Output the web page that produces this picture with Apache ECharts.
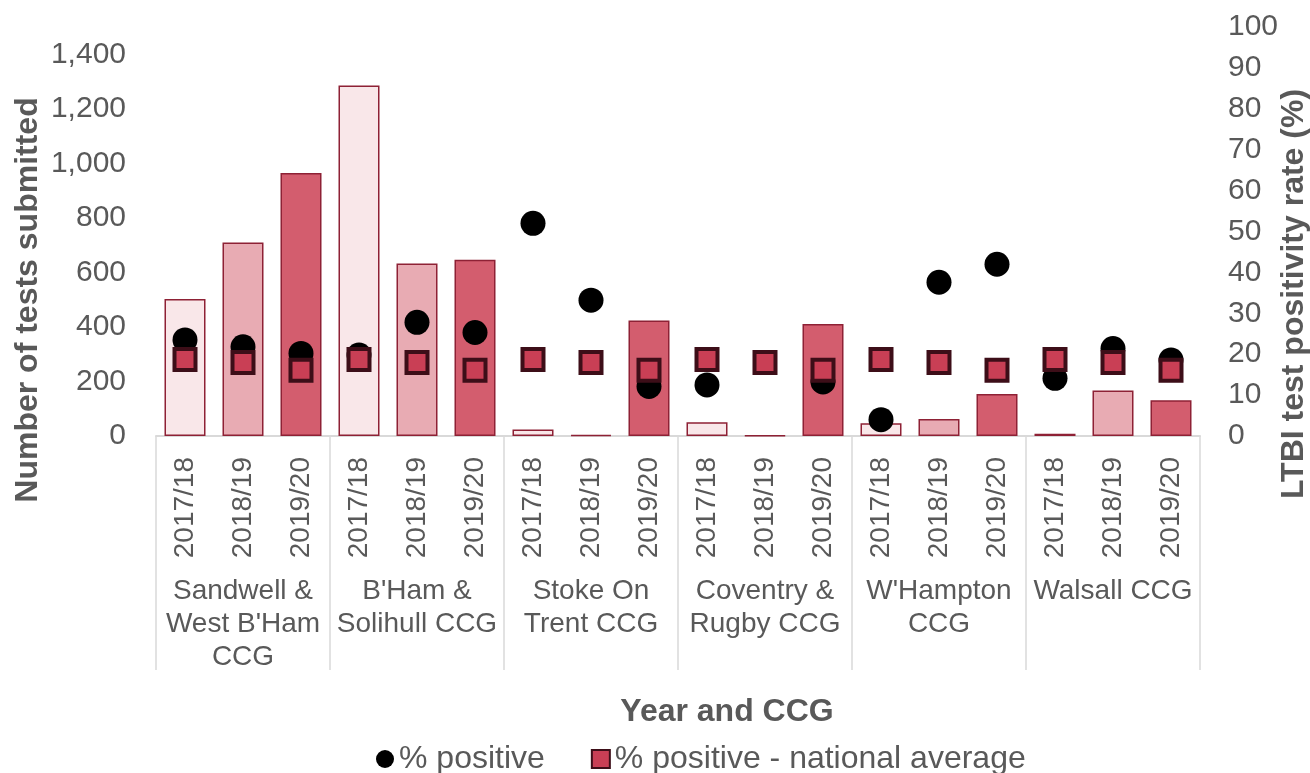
<!DOCTYPE html>
<html>
<head>
<meta charset="utf-8">
<script src="https://cdn.jsdelivr.net/npm/echarts@6/dist/echarts.min.js"></script>
<style>
  html, body { margin: 0; padding: 0; background: #fff; }
  #chart { width: 1310px; height: 773px; }
</style>
</head>
<body>
<div id="chart"></div>
<script>
const groups = ["Sandwell &\nWest B'Ham\nCCG", "B'Ham &\nSolihull CCG", "Stoke On\nTrent CCG", "Coventry &\nRugby CCG", "W'Hampton\nCCG", "Walsall CCG"];
const years = ['2017/18', '2018/19', '2019/20'];
const testsSubmitted = [502, 710, 965, 1285, 633, 646, 24, 4, 424, 50, 2, 411, 47, 62, 154, 8, 167, 131];
const pctPositive = [23.5, 21.8, 20.2, 19.8, 27.8, 25.3, 52.0, 33.2, 12.1, 12.5, null, 13.2, 4.0, 37.6, 42.0, 14.1, 21.4, 18.6];
const pctNational = [18.7, 18.0, 16.1, 18.7, 18.0, 16.1, 18.7, 18.0, 16.1, 18.7, 18.0, 16.1, 18.7, 18.0, 16.1, 18.7, 18.0, 16.1];
const leftTicks = { min: 0, max: 1500, interval: 200 };
const rightTicks = { min: 0, max: 100, interval: 10 };

const categories = [];
groups.forEach((g, gi) => years.forEach(y => categories.push(gi + '|' + y)));

const yearFills = ['#F9E7E9', '#E8ABB3', '#D35D6E'];
const txt = '#595959';
const font = '"Liberation Sans", Arial, sans-serif';

const chart = echarts.init(document.getElementById('chart'));
chart.setOption({
  animation: false,
  textStyle: { fontFamily: font },
  grid: { left: 156, right: 110, top: 27, bottom: 337, containLabel: false },
  xAxis: [
    {
      type: 'category',
      data: categories,
      axisLine: { show: true, lineStyle: { color: '#D9D9D9', width: 2 } },
      axisTick: { show: false },
      axisLabel: {
        interval: 0, rotate: 90, margin: 21,
        color: txt, fontSize: 28, fontFamily: font,
        formatter: v => v.split('|')[1]
      }
    },
    {
      type: 'category',
      position: 'bottom',
      data: groups,
      axisLine: { show: false },
      axisTick: { show: true, length: 234, lineStyle: { color: '#D9D9D9', width: 1.5 } },
      axisLabel: {
        interval: 0, margin: 139,
        color: txt, fontSize: 28, lineHeight: 33, fontFamily: font
      }
    }
  ],
  yAxis: [
    {
      type: 'value', min: leftTicks.min, max: leftTicks.max, interval: leftTicks.interval,
      axisLine: { show: false }, axisTick: { show: false }, splitLine: { show: false },
      axisLabel: {
        margin: 30, color: txt, fontSize: 30, fontFamily: font,
        formatter: v => v > 1400 ? '' : v.toLocaleString('en-US')
      }
    },
    {
      type: 'value', min: rightTicks.min, max: rightTicks.max, interval: rightTicks.interval,
      position: 'right',
      axisLine: { show: false }, axisTick: { show: false }, splitLine: { show: false },
      axisLabel: { margin: 28, color: txt, fontSize: 30, fontFamily: font }
    }
  ],
  legend: {
    left: 371, top: 738,
    itemWidth: 18, itemHeight: 18, itemGap: 46,
    textStyle: { color: txt, fontSize: 32, fontFamily: font },
    data: ['% positive', '% positive - national average']
  },
  graphic: [
    { type: 'text', x: 28, y: 300, rotation: Math.PI / 2,
      style: { text: 'Number of tests submitted', fill: txt, font: 'bold 32px ' + font, textAlign: 'center', textVerticalAlign: 'middle' } },
    { type: 'text', x: 1294, y: 294, rotation: Math.PI / 2,
      style: { text: 'LTBI test positivity rate (%)', fill: txt, font: 'bold 32px ' + font, textAlign: 'center', textVerticalAlign: 'middle' } },
    { type: 'text', x: 727, y: 712,
      style: { text: 'Year and CCG', fill: txt, font: 'bold 32px ' + font, textAlign: 'center', textVerticalAlign: 'middle' } }
  ],
  series: [
    {
      name: 'Tests submitted',
      type: 'bar',
      xAxisIndex: 0, yAxisIndex: 0,
      barWidth: 41,
      data: testsSubmitted,
      itemStyle: {
        color: p => yearFills[p.dataIndex % 3],
        borderColor: '#8E2135', borderWidth: 1.5
      }
    },
    {
      name: '% positive',
      type: 'scatter',
      xAxisIndex: 0, yAxisIndex: 1,
      symbol: 'circle', symbolSize: 25,
      data: pctPositive,
      itemStyle: { color: '#000000', opacity: 1 }
    },
    {
      name: '% positive - national average',
      type: 'scatter',
      xAxisIndex: 0, yAxisIndex: 1,
      symbol: 'rect', symbolSize: 21,
      data: pctNational,
      itemStyle: { color: '#C93F55', borderColor: '#3D0E18', borderWidth: 4, opacity: 1 }
    }
  ]
});
</script>
</body>
</html>
